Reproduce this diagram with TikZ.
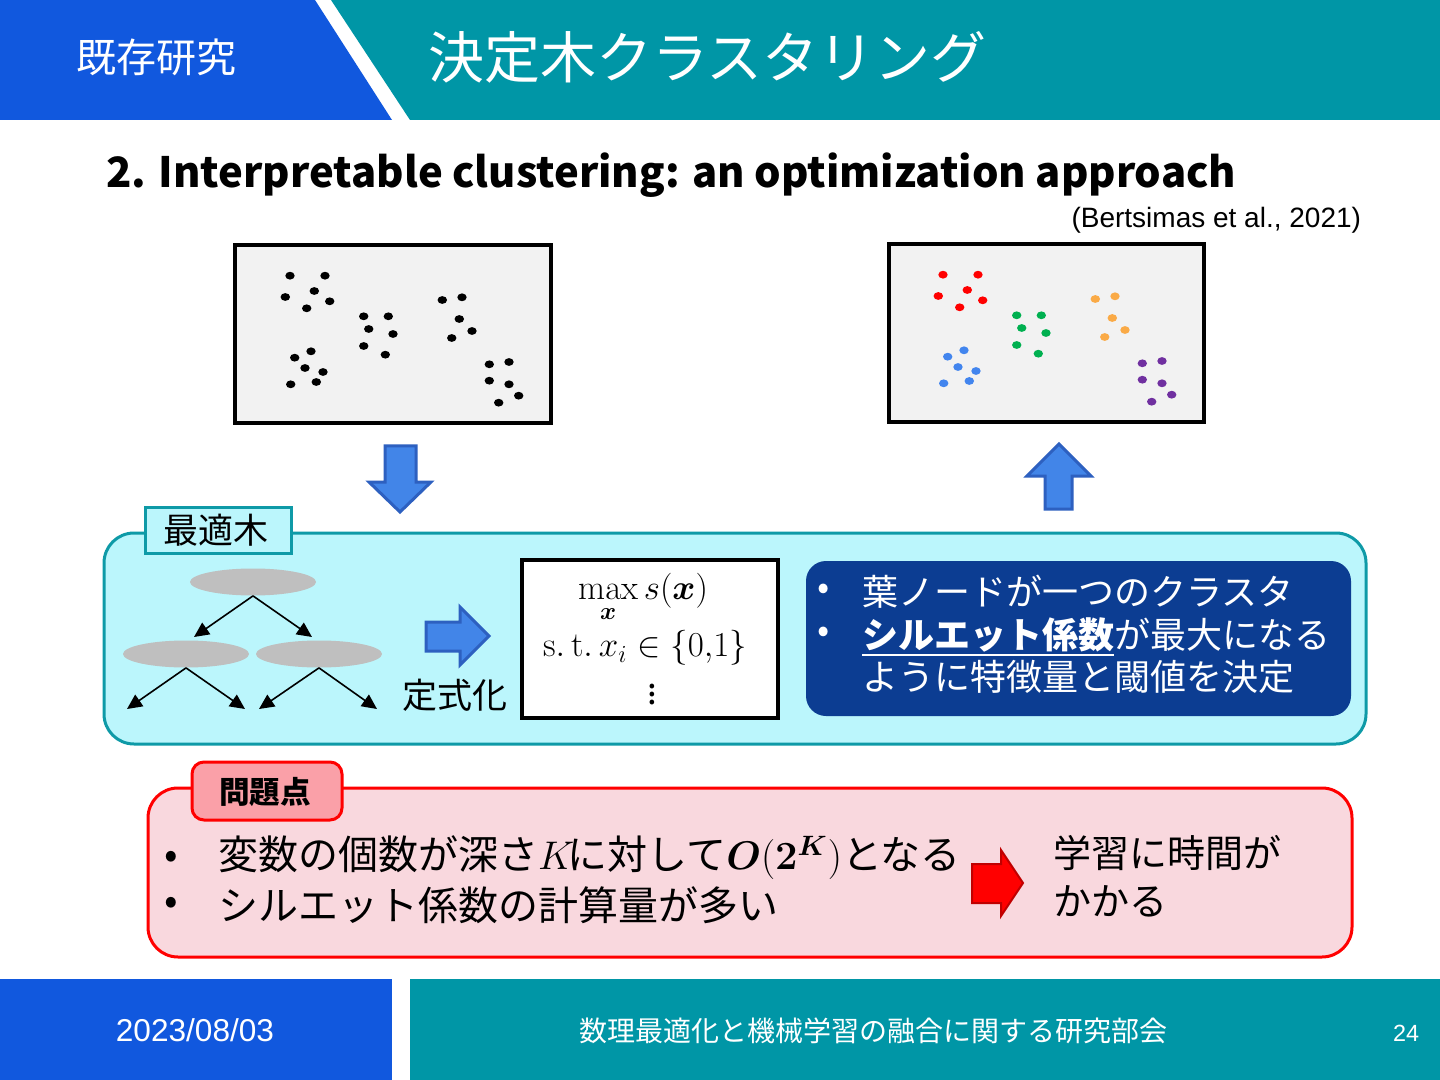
\RequirePackage{fix-cm}
\documentclass[tikz,border=0pt]{standalone}
\usepackage{amsmath}
\usepackage{graphicx}
\usepackage[no-math]{fontspec}
\setmainfont{Noto Sans CJK JP}
\newfontfamily\arialf{Liberation Sans}
\usetikzlibrary{arrows.meta,shapes.geometric}
\definecolor{hdrblue}{RGB}{17,88,222}
\definecolor{hdrteal}{RGB}{0,150,166}
\definecolor{cyanfill}{RGB}{187,246,252}
\definecolor{cyanline}{RGB}{14,154,167}
\definecolor{navy}{RGB}{12,61,146}
\definecolor{pinkfill}{RGB}{249,216,222}
\definecolor{pinklabel}{RGB}{250,160,168}
\definecolor{arrowblue}{RGB}{66,133,232}
\definecolor{arrowblueline}{RGB}{45,96,192}
\definecolor{boxgray}{RGB}{242,242,242}
\definecolor{treegray}{RGB}{191,191,191}
\definecolor{dotred}{RGB}{255,0,0}
\definecolor{dotgreen}{RGB}{0,176,80}
\definecolor{dotorange}{RGB}{250,170,70}
\definecolor{dotblue}{RGB}{66,133,238}
\definecolor{dotpurple}{RGB}{112,48,160}
\definecolor{darkred}{RGB}{192,0,0}
\def\clA{290/275.7, 325/275.7, 314.3/291, 285.3/297, 329.7/301.3, 306.7/308.3}
\def\clB{363.7/316.3, 388.3/316.3, 368.7/329, 393/334, 363.7/346, 385.3/354.7}
\def\clC{442.3/300, 462/297.3, 459.3/319, 472/331, 451.7/338}
\def\clD{311/351.3, 294.7/357.7, 305/368, 323/372, 290.7/384.3, 316.3/382}
\def\clE{489.3/364.3, 509/362, 489.3/380.7, 509/384.3, 518.7/395.7, 498.7/402.7}
\begin{document}
\begin{tikzpicture}[x=0.5pt,y=-0.5pt,
  txt/.style={inner sep=0pt,outer sep=0pt},
  panel/.style={rectangle,inner sep=0pt,outer sep=0pt},
  scatterbox/.style={panel,draw=black,line width=2pt,fill=boxgray,minimum width=158pt,minimum height=89pt},
  blockarrow/.style={fill=arrowblue,draw=arrowblueline,line width=1.5pt,line join=miter},
  treenode/.style={ellipse,fill=treegray,minimum width=63pt,minimum height=13.5pt,inner sep=0pt},
  treeedge/.style={line width=0.8pt,-{Triangle[length=7.5pt,width=7pt]}},
  dotmark/.style={x radius=2.35pt,y radius=1.95pt}]
\useasboundingbox (0,0) rectangle (1440,1080);
\fill[white] (0,0) rectangle (1440,1080);
% header
\fill[hdrblue] (0,0) -- (315,0) -- (392,120) -- (0,120) -- cycle;
\fill[hdrteal] (331,0) -- (1440,0) -- (1440,120) -- (410,120) -- cycle;
\node[txt,text=white,font=\fontsize{20}{24}\selectfont] (sect) at (156,57) {既存研究};
\node[txt,text=white,font=\fontsize{28}{34}\selectfont,anchor=west] (title) at (428,57) {決定木クラスタリング};
% subtitle
\node[txt,anchor=base west] (subt) at (106,188) {\resizebox{565pt}{!}{\bfseries 2. Interpretable clustering: an optimization approach}};
\node[txt,anchor=east,font=\arialf\fontsize{14}{17}\selectfont] (cite) at (1361,220) {(Bertsimas et al., 2021)};
% scatter boxes
\node[scatterbox] (raw) at (393,334) {};
\node[scatterbox,minimum width=157.5pt] (clus) at (1046.5,333) {};
\foreach \x/\y in \clA {\fill[black] (\x,\y) ellipse[dotmark];}
\foreach \x/\y in \clB {\fill[black] (\x,\y) ellipse[dotmark];}
\foreach \x/\y in \clC {\fill[black] (\x,\y) ellipse[dotmark];}
\foreach \x/\y in \clD {\fill[black] (\x,\y) ellipse[dotmark];}
\foreach \x/\y in \clE {\fill[black] (\x,\y) ellipse[dotmark];}
\begin{scope}[shift={(653,-1)}]
\foreach \x/\y in \clA {\fill[dotred] (\x,\y) ellipse[dotmark];}
\foreach \x/\y in \clB {\fill[dotgreen] (\x,\y) ellipse[dotmark];}
\foreach \x/\y in \clC {\fill[dotorange] (\x,\y) ellipse[dotmark];}
\foreach \x/\y in \clD {\fill[dotblue] (\x,\y) ellipse[dotmark];}
\foreach \x/\y in \clE {\fill[dotpurple] (\x,\y) ellipse[dotmark];}
\end{scope}
% vertical block arrows
\draw[blockarrow] (385,446) -- (416,446) -- (416,482) -- (431,482) -- (400,512) -- (369,482) -- (385,482) -- cycle;
\draw[blockarrow] (1059,444) -- (1091,476) -- (1072,476) -- (1072,509) -- (1045,509) -- (1045,476) -- (1027,476) -- cycle;
% cyan panel
\node[panel,draw=cyanline,fill=cyanfill,line width=1.5pt,rounded corners=15pt,minimum width=631pt,minimum height=105.5pt] (optpanel) at (735,638.5) {};
\node[panel,draw=cyanline,fill=cyanfill,line width=1.5pt,minimum width=73pt,minimum height=23pt] (optlabel) at (218,530) {};
\node[txt,font=\fontsize{17.5}{21}\selectfont] (optlabeltext) at (216,530) {最適木};
% tree
\node[treenode] (t0) at (253,582) {};
\node[treenode] (t1) at (186,654) {};
\node[treenode] (t2) at (319,654) {};
\coordinate (a1) at (194,637);
\coordinate (a2) at (312,637);
\coordinate (b1) at (127,709);
\coordinate (b2) at (245,709);
\coordinate (b3) at (259,709);
\coordinate (b4) at (377,709);
\draw[treeedge] (t0.south) -- (a1);
\draw[treeedge] (t0.south) -- (a2);
\draw[treeedge] (t1.south) -- (b1);
\draw[treeedge] (t1.south) -- (b2);
\draw[treeedge] (t2.south) -- (b3);
\draw[treeedge] (t2.south) -- (b4);
% formulation arrow
\draw[blockarrow] (426,622) -- (460,622) -- (460,607) -- (489,636) -- (460,665) -- (460,651) -- (426,651) -- cycle;
\node[txt,font=\fontsize{17.5}{21}\selectfont] (formtext) at (455,695) {定式化};
% formula box
\node[panel,draw=black,fill=white,line width=2pt,minimum width=128pt,minimum height=79pt] (formula) at (650,639) {};
\node[txt,font=\fontsize{17.5}{21}\selectfont] (f1) at (643,598) {$\max\limits_{\boldsymbol{x}} s(\boldsymbol{x})$};
\node[txt,font=\fontsize{17.5}{21}\selectfont] (f2) at (645,648) {$\mathrm{s.\,t.}\,x_i \in \{0{,}1\}$};
\node[txt,font=\fontsize{17.5}{21}\selectfont] (f3) at (652,689) {$\vdots$};
% navy box
\node[panel,fill=navy,rounded corners=10pt,minimum width=272.5pt,minimum height=77.5pt] (leafbox) at (1078.5,638.5) {};
\begin{scope}[every node/.style={txt,text=white,font=\fontsize{18}{22}\selectfont}]
\node (nb1) at (824,592) {•};
\node (nb2) at (824,635) {•};
\node[anchor=west] (nl1) at (862,592) {葉ノードが一つのクラスタ};
\node[anchor=west] (nl2a) at (862,635) {\bfseries シルエット係数};
\node[anchor=west] (nl2b) at (nl2a.east) {が最大になる};
\node[anchor=west] (nl3) at (862,677) {ように特徴量と閾値を決定};
\end{scope}
\draw[white,line width=1.1pt] ([yshift=-1.5pt]nl2a.south west) -- ([yshift=-1.5pt]nl2a.south east);
% problem box
\node[panel,draw=red,fill=pinkfill,line width=1.5pt,rounded corners=15pt,minimum width=602pt,minimum height=84.5pt] (probbox) at (750,872.5) {};
\node[panel,draw=red,fill=pinklabel,line width=1.5pt,rounded corners=6pt,minimum width=75pt,minimum height=29pt] (problabel) at (267,791) {};
\node[txt,font=\bfseries\fontsize{15.3}{18}\selectfont] (problabeltext) at (265,792) {問題点};
\begin{scope}[every node/.style={txt,font=\fontsize{20}{24}\selectfont}]
\node (pb1) at (171,860) {•};
\node (pb2) at (171,906) {•};
\node[anchor=west] (pl1) at (218,858) {変数の個数が深さ$K\!$に対して$\boldsymbol{O}(\mathbf{2}^{\boldsymbol{K}})$となる};
\node[anchor=west] (pl2) at (218,905) {シルエット係数の計算量が多い};
\end{scope}
\draw[fill=red,draw=darkred,line width=1pt,line join=miter] (972,864) -- (1001,864) -- (1001,850) -- (1023,883) -- (1001,916) -- (1001,903) -- (972,903) -- cycle;
\node[txt,anchor=west,font=\fontsize{19}{23}\selectfont] (res1) at (1053,853) {学習に時間が};
\node[txt,anchor=west,font=\fontsize{19}{23}\selectfont] (res2) at (1053,901) {かかる};
% footer
\fill[hdrblue] (0,979) rectangle (392,1080);
\fill[hdrteal] (410,979) rectangle (1440,1080);
\node[txt,text=white,font=\arialf\fontsize{15.8}{19}\selectfont] (date) at (195,1030) {2023/08/03};
\node[txt,text=white,font=\fontsize{14}{17}\selectfont] (meeting) at (873,1031) {数理最適化と機械学習の融合に関する研究部会};
\node[txt,text=white,font=\arialf\fontsize{11.7}{14}\selectfont] (pagenum) at (1406,1033) {24};
\end{tikzpicture}
\end{document}
